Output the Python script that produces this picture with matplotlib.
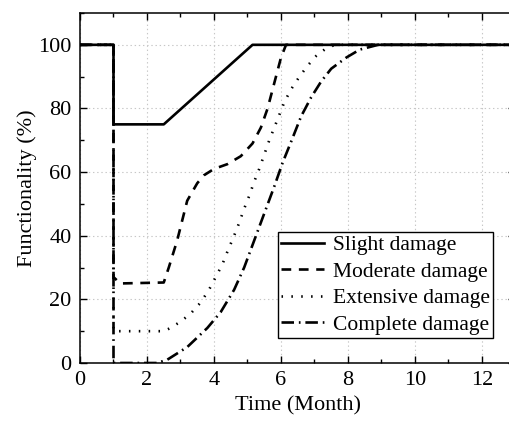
import matplotlib
matplotlib.use("Agg")
import matplotlib.pyplot as plt
from matplotlib.ticker import MultipleLocator

plt.rcParams['font.family'] = ['Liberation Serif', 'DejaVu Serif']
plt.rcParams['lines.scale_dashes'] = False

# Functionality recovery curves (time in months, functionality in %)
slight_t = [0, 1, 1, 2.5, 5.15, 13]
slight_f = [100, 100, 75, 75, 100, 100]

moderate_t = [0, 1, 1, 1.2, 2.5, 2.65, 2.9, 3.2, 3.5, 3.7, 4.0, 4.4, 4.8,
              5.15, 5.4, 5.6, 5.8, 6.0, 6.15, 13]
moderate_f = [100, 100, 27, 25, 25.3, 30, 38.5, 51, 56.5, 59, 61, 62.5, 65,
              69, 74, 80, 88, 96, 100, 100]

extensive_t = [0, 1, 1, 2.5, 2.7, 3.0, 3.3, 3.6, 3.85, 4.05, 4.25, 4.4, 4.6,
               4.75, 4.9, 5.05, 5.2, 5.35, 5.5, 5.65, 5.8, 5.95, 6.1, 6.3,
               6.55, 6.8, 7.05, 7.3, 7.6, 13]
extensive_f = [100, 100, 10, 10, 11, 13, 15.5, 19, 23, 27, 31, 35, 40,
               44, 48.5, 52.5, 57, 61, 65.5, 70, 74, 78, 82, 86,
               90, 93.5, 96.5, 98.5, 100, 100]

complete_t = [0, 1, 1, 2.3, 2.6, 3.2, 3.8, 4.2, 4.6, 4.9, 5.2, 5.5, 5.8,
              6.05, 6.3, 6.6, 6.9, 7.2, 7.5, 7.95, 8.35, 8.9, 13]
complete_f = [100, 100, 0, 0, 1, 5, 11, 16, 23, 30, 38.5, 47, 55.5,
              63, 69.5, 77.5, 83.5, 88.5, 92.5, 96, 98.5, 100, 100]

labels = ['Slight damage', 'Moderate damage', 'Extensive damage', 'Complete damage']

W, H = 510, 421
fig = plt.figure(figsize=(W / 100, H / 100), dpi=100)
ax = fig.add_axes([80 / W, 58 / H, 435.5 / W, 350 / H])

lw = 1.9
ax.plot(slight_t, slight_f, color='black', lw=lw, ls='-', label=labels[0])
ax.plot(moderate_t, moderate_f, color='black', lw=lw,
        ls=(0, (7, 5.5)), label=labels[1])
ax.plot(extensive_t, extensive_f, color='black', lw=lw,
        ls=(0, (1.1, 6)), label=labels[2])
ax.plot(complete_t, complete_f, color='black', lw=lw,
        ls=(0, (9, 3.5, 1.2, 3.5)), label=labels[3])

ax.set_xlim(0, 13)
ax.set_ylim(0, 110)
ax.xaxis.set_major_locator(MultipleLocator(2))
ax.xaxis.set_minor_locator(MultipleLocator(1))
ax.yaxis.set_major_locator(MultipleLocator(20))
ax.yaxis.set_minor_locator(MultipleLocator(10))

ax.grid(True, which='major', color='0.78', ls=(0, (1, 2)), lw=0.8)
ax.set_axisbelow(True)

ax.tick_params(which='both', direction='in', top=True, right=True,
               labelsize=16, width=1.0, color='black')
ax.tick_params(which='major', length=5, pad=6)
ax.tick_params(which='minor', length=3)
for s in ax.spines.values():
    s.set_linewidth(1.1)

ax.set_xlabel('Time (Month)', fontsize=16, labelpad=4)
ax.set_ylabel('Functionality (%)', fontsize=16, labelpad=1)

leg = ax.legend(loc='lower right', bbox_to_anchor=(0.948, 0.071),
                borderaxespad=0, fontsize=15.5, frameon=True, fancybox=False,
                edgecolor='black', handlelength=2.0, handletextpad=0.4,
                labelspacing=0.3, borderpad=0.15, handleheight=0.7)
leg.get_frame().set_linewidth(1.0)
leg.get_frame().set_alpha(1)

fig.savefig('out.png', dpi=100)
